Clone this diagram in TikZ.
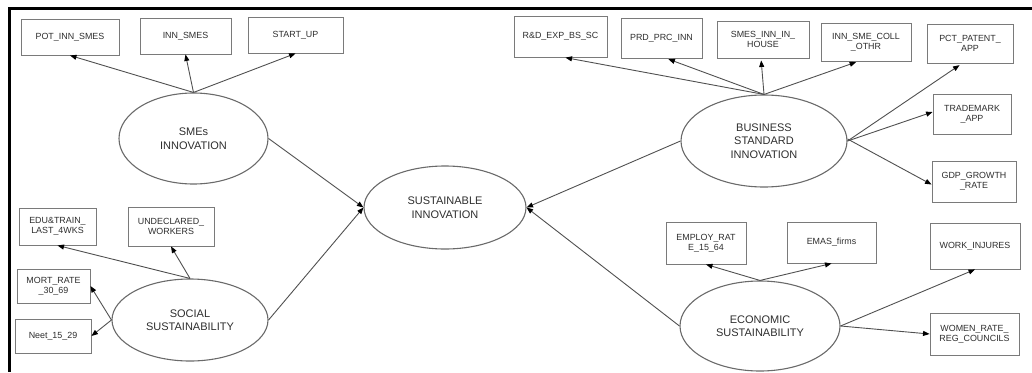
\documentclass[tikz,border=0pt]{standalone}
\usepackage{fontspec}
\setmainfont{Liberation Sans}
\usetikzlibrary{shapes.geometric,arrows.meta}
\definecolor{inkgray}{HTML}{2E2E2E}
\definecolor{boxline}{HTML}{7A7A7A}
\definecolor{ellline}{HTML}{6A6A6A}
\definecolor{wire}{HTML}{505050}
\tikzset{
  indicator/.style={draw=boxline, line width=0.9pt, rectangle, inner sep=0pt,
    align=center, text=inkgray, font=\fontsize{8.9}{10}\selectfont},
  construct/.style={draw=ellline, line width=1.1pt, ellipse, inner sep=0pt,
    align=center, text=inkgray, font=\fontsize{11}{13.5}\selectfont},
  link/.style={draw=wire, line width=0.9pt,
    -{Triangle[length=6.5pt,width=5pt,color=black]}},
}
\begin{document}
\begin{tikzpicture}[x=1pt,y=-1pt]
\useasboundingbox (0,0) rectangle (1032,372);
% frame along the top and left edges
\draw[line width=3pt] (1032,8.5) -- (9,8.5) -- (9,372);

% latent constructs
\node[construct, minimum width=149pt, minimum height=91pt] (smes)   at (193.5,138.5) {SMEs\\INNOVATION};
\node[construct, minimum width=156pt, minimum height=82pt] (social) at (190,320) {SOCIAL\\SUSTAINABILITY};
\node[construct, minimum width=162pt, minimum height=83pt] (sust)   at (445,207.5) {SUSTAINABLE\\INNOVATION};
\node[construct, minimum width=166pt, minimum height=92pt] (bus)    at (764,141) {BUSINESS\\STANDARD\\INNOVATION};
\node[construct, minimum width=160pt, minimum height=90pt] (econ)   at (760,326) {ECONOMIC\\SUSTAINABILITY};

% indicators of SMEs innovation
\node[indicator, minimum width=98pt, minimum height=36pt] (pot)   at (70,37)     {POT\_INN\_SMES};
\node[indicator, minimum width=91pt, minimum height=36pt] (inns)  at (185.5,36)  {INN\_SMES};
\node[indicator, minimum width=95pt, minimum height=36pt] (start) at (295.5,35)  {START\_UP};

% indicators of social sustainability
\node[indicator, minimum width=77pt, minimum height=37pt] (edu)   at (57.5,226.5) {EDU\&TRAIN\_\\LAST\_4WKS};
\node[indicator, minimum width=86pt, minimum height=39pt] (undec) at (171,226.5)  {UNDECLARED\_\\WORKERS};
\node[indicator, minimum width=73pt, minimum height=34pt] (mort)  at (53.5,286)   {MORT\_RATE\\\_30\_69};
\node[indicator, minimum width=76pt, minimum height=34pt] (neet)  at (53,336)     {Neet\_15\_29};

% indicators of business standard innovation
\node[indicator, minimum width=93pt, minimum height=41pt] (rd)      at (560.5,36.5) {R\&D\_EXP\_BS\_SC};
\node[indicator, minimum width=81pt, minimum height=40pt] (prd)     at (661.5,38)   {PRD\_PRC\_INN};
\node[indicator, minimum width=92pt, minimum height=37pt] (inhouse) at (763,39.5)   {SMES\_INN\_IN\_\\HOUSE};
\node[indicator, minimum width=90pt, minimum height=38pt] (coll)    at (866,42)     {INN\_SME\_COLL\\\_OTHR};
\node[indicator, minimum width=86pt, minimum height=39pt] (pct)     at (970,43.5)   {PCT\_PATENT\_\\APP};
\node[indicator, minimum width=78pt, minimum height=40pt] (trade)   at (972,114)    {TRADEMARK\\\_APP};
\node[indicator, minimum width=84pt, minimum height=41pt] (gdp)     at (974,181.5)  {GDP\_GROWTH\\\_RATE};

% indicators of economic sustainability
\node[indicator, minimum width=80pt, minimum height=42pt] (employ) at (706,243)   {EMPLOY\_RAT\\E\_15\_64};
\node[indicator, minimum width=89pt, minimum height=41pt] (emas)   at (831.5,242.5) {EMAS\_firms};
\node[indicator, minimum width=90pt, minimum height=46pt] (work)   at (975,246)   {WORK\_INJURES};
\node[indicator, minimum width=89pt, minimum height=42pt] (women)  at (974.5,334) {WOMEN\_RATE\_\\REG\_COUNCILS};

% loadings
\draw[link] (smes.north) -- (pot.south);
\draw[link] (smes.north) -- (inns.south);
\draw[link] (smes.north) -- (start.south);

\draw[link] (social.north) -- (edu.south);
\draw[link] (social.north) -- (undec.south);
\draw[link] (social.west) -- (mort.east);
\draw[link] (social.west) -- (neet.east);

\draw[link, shorten >=1pt] (bus.north) -- ([xshift=4pt]rd.south);
\draw[link, shorten >=2pt] (bus.north) -- ([xshift=5pt]prd.south);
\draw[link, shorten >=2pt] (bus.north) -- ([xshift=-2pt]inhouse.south);
\draw[link, shorten >=2pt] (bus.north) -- ([xshift=-8pt]coll.south);
\draw[link, shorten >=3pt] (bus.east) -- ([xshift=-8pt]pct.south);
\draw[link] (bus.east) -- ([yshift=2pt]trade.west);
\draw[link] ([yshift=2pt]bus.east) -- ([yshift=-3pt]gdp.west);

\draw[link] (econ.north) -- (employ.south);
\draw[link] (econ.north) -- (emas.south);
\draw[link] (econ.east) -- (work.south);
\draw[link] (econ.east) -- (women.west);

% structural paths
\draw[link] (smes.east) -- (sust.west);
\draw[link] (social.east) -- (sust.west);
\draw[link] (bus.west) -- (sust.east);
\draw[link] (econ.west) -- (sust.east);
\end{tikzpicture}
\end{document}
